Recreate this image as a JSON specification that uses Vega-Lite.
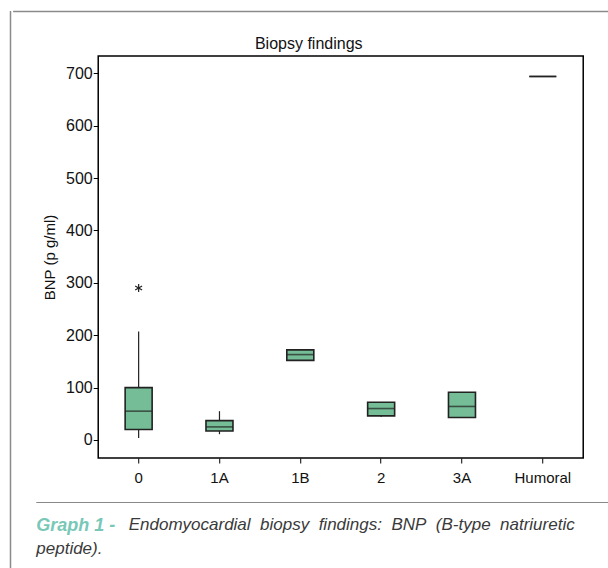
{
  "$schema": "https://vega.github.io/schema/vega-lite/v6.json",
  "padding": {"left": 9, "top": 10, "right": 0, "bottom": 0},
  "background": "white",
  "config": {
    "font": "Liberation Sans",
    "view": {"stroke": null}
  },
  "spacing": 0,
  "hconcat": [
    {
      "width": 1,
      "height": 570,
      "data": {"values": [{"edge": 0}]},
      "mark": {"type": "rule", "color": "#8a8a8a", "strokeWidth": 1.5},
      "encoding": {
        "x": {"field": "edge", "type": "quantitative", "axis": null}
      }
    },
    {
      "center": true,
      "spacing": 22,
      "vconcat": [
        {
          "width": 655,
          "height": 1,
          "data": {"values": [{"edge": 0}]},
          "mark": {"type": "rule", "color": "#8a8a8a", "strokeWidth": 1.5},
          "encoding": {
            "y": {"field": "edge", "type": "quantitative", "axis": null}
          }
        },
        {
          "center": true,
          "spacing": 15,
          "title": {
            "text": "Endomyocardial\u00a0 biopsy\u00a0 findings:\u00a0 BNP\u00a0 (B-type\u00a0 natriuretic",
            "orient": "bottom",
            "anchor": "start",
            "frame": "bounds",
            "dx": 93,
            "offset": -40,
            "color": "#3a3a3a",
            "fontSize": 17,
            "fontStyle": "italic",
            "fontWeight": "normal"
          },
          "vconcat": [
            {
              "width": 485,
              "height": 402,
              "view": {"stroke": "#000000", "strokeWidth": 1.5},
              "title": {
                "text": "Biopsy findings",
                "frame": "bounds",
                "anchor": "middle",
                "dx": -4,
                "fontSize": 16,
                "fontWeight": "normal",
                "color": "#111111",
                "offset": 4
              },
              "data": {
                "values": [
                  {"group": "0", "lower": 4, "q1": 20, "median": 55, "q3": 100, "upper": 207},
                  {"group": "1A", "lower": 11, "q1": 17, "median": 25, "q3": 37, "upper": 55},
                  {"group": "1B", "lower": 152, "q1": 152, "median": 163, "q3": 172, "upper": 172},
                  {"group": "2", "lower": 44, "q1": 46, "median": 60, "q3": 72, "upper": 72},
                  {"group": "3A", "lower": 43, "q1": 43, "median": 64, "q3": 91, "upper": 91},
                  {"group": "Humoral", "lower": 694, "q1": 694, "median": 694, "q3": 694, "upper": 694}
                ]
              },
              "encoding": {
                "x": {
                  "field": "group",
                  "type": "nominal",
                  "sort": null,
                  "scale": {"domain": ["0", "1A", "1B", "2", "3A", "Humoral"], "paddingInner": 0, "paddingOuter": 0},
                  "axis": {
                    "title": null,
                    "labelAngle": 0,
                    "domain": false,
                    "grid": false,
                    "ticks": true,
                    "tickSize": 5,
                    "tickColor": "#000000",
                    "tickWidth": 1,
                    "labelFontSize": 15,
                    "labelColor": "#111111",
                    "labelPadding": 7
                  }
                }
              },
              "layer": [
                {
                  "mark": {"type": "rule", "color": "#222222", "strokeWidth": 1.2},
                  "encoding": {
                    "y": {
                      "field": "lower",
                      "type": "quantitative",
                      "scale": {"domain": [-34.4, 733], "nice": false, "zero": false},
                      "axis": {
                        "title": "BNP (p g/ml)",
                        "titleFontSize": 15,
                        "titleFontWeight": "normal",
                        "titleColor": "#111111",
                        "titleX": -44,
                        "titleBaseline": "alphabetic",
                        "values": [0, 100, 200, 300, 400, 500, 600, 700],
                        "domain": false,
                        "grid": false,
                        "tickSize": 5,
                        "tickColor": "#000000",
                        "labelFontSize": 16,
                        "labelPadding": 1,
                        "labelColor": "#111111"
                      }
                    },
                    "y2": {"field": "upper"}
                  }
                },
                {
                  "mark": {"type": "bar", "size": 27, "fill": "#74bd96", "stroke": "#222222", "strokeWidth": 1.6},
                  "encoding": {
                    "y": {"field": "q1", "type": "quantitative"},
                    "y2": {"field": "q3"}
                  }
                },
                {
                  "mark": {"type": "tick", "size": 27, "thickness": 1.6, "color": "#222222"},
                  "encoding": {
                    "y": {"field": "median", "type": "quantitative"}
                  }
                },
                {
                  "data": {"values": [{"group": "0", "value": 290}]},
                  "mark": {
                    "type": "point",
                    "shape": "M0,-1L0,1M-0.866,-0.5L0.866,0.5M-0.866,0.5L0.866,-0.5",
                    "filled": false,
                    "size": 64,
                    "stroke": "#222222",
                    "strokeWidth": 1.2,
                    "opacity": 1
                  },
                  "encoding": {
                    "y": {"field": "value", "type": "quantitative"}
                  }
                }
              ]
            },
            {
              "width": 609,
              "height": 1,
              "data": {"values": [{"sep": 0}]},
              "mark": {"type": "rule", "color": "#888888", "strokeWidth": 1.2},
              "encoding": {
                "y": {"field": "sep", "type": "quantitative", "axis": null}
              },
              "title": {
                "text": "Graph 1 -",
                "orient": "bottom",
                "anchor": "start",
                "frame": "group",
                "color": "#78c8b8",
                "fontSize": 18,
                "fontStyle": "italic",
                "fontWeight": "bold",
                "offset": 14,
                "subtitle": "peptide).",
                "subtitleColor": "#3a3a3a",
                "subtitleFontSize": 17,
                "subtitleFontStyle": "italic",
                "subtitleFontWeight": "normal",
                "subtitlePadding": 6
              }
            }
          ]
        }
      ]
    }
  ]
}
